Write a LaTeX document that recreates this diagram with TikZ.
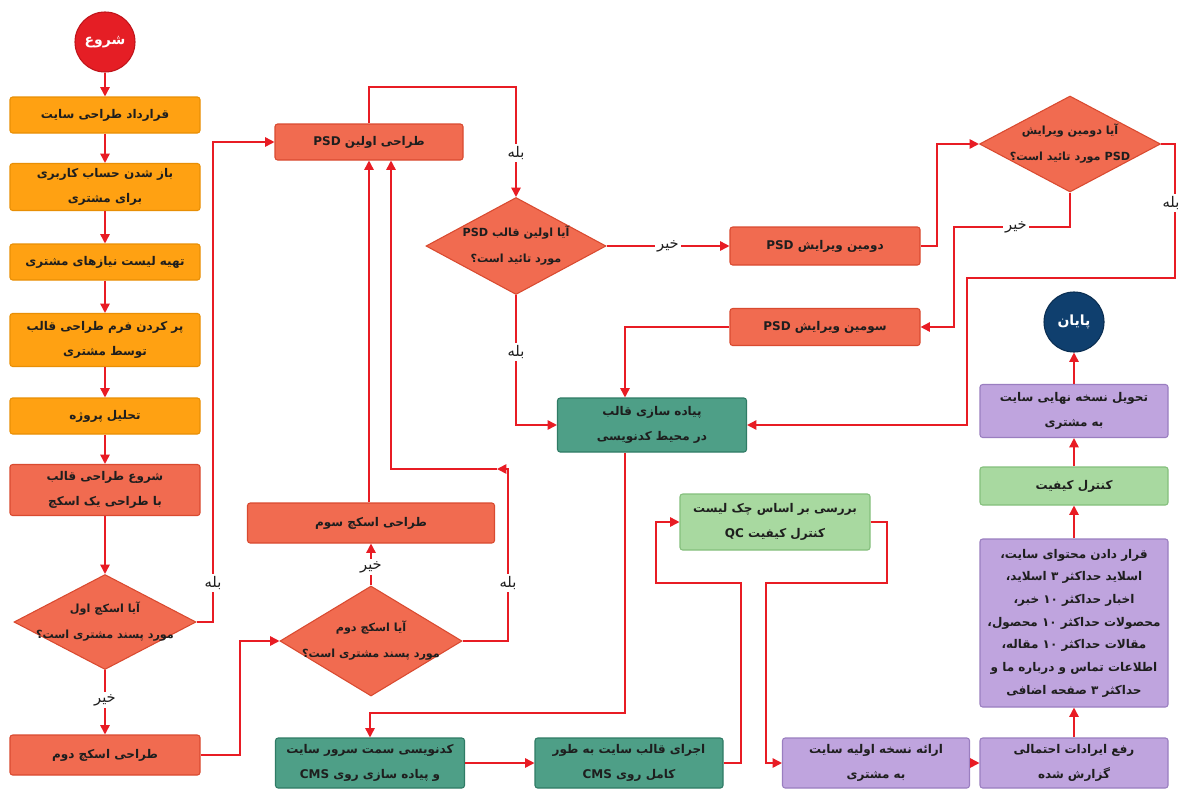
\documentclass[tikz,border=0pt]{standalone}
\usepackage{fontspec}
\usetikzlibrary{shapes.geometric,arrows.meta}
\TeXXeTstate=1
\newfontfamily\fafont[Script=Arabic]{DejaVu Sans}
\newcommand{\fa}[1]{{\fafont\beginR #1\endR}}
\newcommand{\latn}[1]{\beginL #1\endL{}}
\definecolor{txtC}{HTML}{1E1E1E}
\definecolor{orF}{HTML}{FFA112}
\definecolor{orD}{HTML}{E88F05}
\definecolor{salF}{HTML}{F16B50}
\definecolor{salD}{HTML}{D94A30}
\definecolor{teF}{HTML}{4E9F87}
\definecolor{teD}{HTML}{2F7B65}
\definecolor{grF}{HTML}{A8D9A0}
\definecolor{grD}{HTML}{84BF7C}
\definecolor{puF}{HTML}{BFA4DE}
\definecolor{puD}{HTML}{9A7EC0}
\definecolor{stF}{HTML}{E51E25}
\definecolor{stD}{HTML}{C0141A}
\definecolor{enF}{HTML}{0F3F6E}
\definecolor{enD}{HTML}{0A2E52}
\definecolor{lnC}{HTML}{E81C24}
\tikzset{
  box/.style={draw, rounded corners=2pt, line width=0.8pt, inner sep=0pt, align=center,
    font=\fontsize{9}{18.5}\selectfont\bfseries, text=txtC},
  obox/.style={box, fill=orF, draw=orD},
  sbox/.style={box, fill=salF, draw=salD},
  tbox/.style={box, fill=teF, draw=teD},
  gbox/.style={box, fill=grF, draw=grD},
  pbox/.style={box, fill=puF, draw=puD},
  dia/.style={diamond, draw=salD, fill=salF, line width=0.8pt, inner sep=0pt},
  dtext/.style={align=center, inner sep=0pt, font=\fontsize{8.4}{19.5}\selectfont\bfseries, text=txtC},
  term/.style={circle, minimum size=45pt, inner sep=0pt, line width=0.8pt, text=white,
    font=\fontsize{10.5}{12}\selectfont\bfseries},
  conn/.style={draw=lnC, line width=1.2pt, line join=miter, -{Triangle[length=7pt,width=7pt]}},
  lbl/.style={fill=white, inner sep=1.5pt, font=\fontsize{11}{13}\selectfont, text=txtC}
}
\begin{document}
\begin{tikzpicture}[x=0.75pt,y=-0.75pt]
\useasboundingbox[fill=white] (0,0) rectangle (1191,789);

% left column
\node[term, fill=stF, draw=stD] (start) at (105,42) {\fa{شروع}};
\node[obox, minimum width=142.5pt, minimum height=27pt] (b1) at (105,115) {\fa{قرارداد طراحی سایت}};
\node[obox, minimum width=142.5pt, minimum height=35.25pt] (b2) at (105,187) {\fa{باز شدن حساب کاربری}\\\fa{برای مشتری}};
\node[obox, minimum width=142.5pt, minimum height=27pt] (b3) at (105,262) {\fa{تهیه لیست نیازهای مشتری}};
\node[obox, minimum width=142.5pt, minimum height=39.75pt] (b4) at (105,340) {\fa{پر کردن فرم طراحی قالب}\\\fa{توسط مشتری}};
\node[obox, minimum width=142.5pt, minimum height=27pt] (b5) at (105,416) {\fa{تحلیل پروژه}};
\node[sbox, minimum width=142.5pt, minimum height=38.25pt] (b6) at (105,490) {\fa{شروع طراحی قالب}\\\fa{با طراحی یک اسکچ}};
\node[dia, minimum width=136.5pt, minimum height=71.25pt] (d1) at (105,622) {};
\node[dtext] (d1t) at (d1) {\fa{آیا اسکچ اول}\\\fa{مورد پسند مشتری است؟}};
\node[sbox, minimum width=142.5pt, minimum height=30pt] (b7) at (105,755) {\fa{طراحی اسکچ دوم}};

% second column
\node[sbox, minimum width=141pt, minimum height=27pt] (psd1) at (369,142) {\fa{طراحی اولین \latn{PSD}}};
\node[sbox, minimum width=185.25pt, minimum height=30pt] (s3) at (371,523) {\fa{طراحی اسکچ سوم}};
\node[dia, minimum width=136.5pt, minimum height=82.5pt] (d2) at (371,641) {};
\node[dtext] (d2t) at (d2) {\fa{آیا اسکچ دوم}\\\fa{مورد پسند مشتری است؟}};
\node[tbox, minimum width=141.75pt, minimum height=37.5pt] (kod) at (370,763) {\fa{کدنویسی سمت سرور سایت}\\\fa{و پیاده سازی روی \latn{CMS}}};

% middle
\node[dia, minimum width=135pt, minimum height=72.75pt] (d3) at (516,246) {};
\node[dtext] (d3t) at (d3) {\fa{آیا اولین قالب \latn{PSD}}\\\fa{مورد تائید است؟}};
\node[tbox, minimum width=141.75pt, minimum height=40.5pt] (pyade) at (652,425) {\fa{پیاده سازی قالب}\\\fa{در محیط کدنویسی}};
\node[tbox, minimum width=141pt, minimum height=37.5pt] (ejra) at (629,763) {\fa{اجرای قالب سایت به طور}\\\fa{کامل روی \latn{CMS}}};
\node[gbox, minimum width=142.5pt, minimum height=42pt] (qc) at (775,522) {\fa{بررسی بر اساس چک لیست}\\\fa{کنترل کیفیت \latn{QC}}};

% right part
\node[sbox, minimum width=142.5pt, minimum height=28.5pt] (dovom) at (825,246) {\fa{دومین ویرایش \latn{PSD}}};
\node[sbox, minimum width=142.5pt, minimum height=27.75pt] (sevom) at (825,327) {\fa{سومین ویرایش \latn{PSD}}};
\node[dia, minimum width=135.75pt, minimum height=72pt] (d4) at (1070,144) {};
\node[dtext] (d4t) at (d4) {\fa{آیا دومین ویرایش}\\\fa{\latn{PSD} مورد تائید است؟}};
\node[term, fill=enF, draw=enD] (end) at (1074,322) {\fa{پایان}};
\node[pbox, minimum width=141pt, minimum height=39.75pt] (tahvil) at (1074,411) {\fa{تحویل نسخه نهایی سایت}\\\fa{به مشتری}};
\node[gbox, minimum width=141pt, minimum height=28.5pt] (kontrol) at (1074,486) {\fa{کنترل کیفیت}};
\node[pbox, minimum width=141pt, minimum height=126pt, font=\fontsize{9}{17}\selectfont\bfseries] (big) at (1074,623)
  {\fa{قرار دادن محتوای سایت،}\\\fa{اسلاید حداکثر ۳ اسلاید،}\\\fa{اخبار حداکثر \latn{۱۰} خبر،}\\\fa{محصولات حداکثر \latn{۱۰} محصول،}\\\fa{مقالات حداکثر \latn{۱۰} مقاله،}\\\fa{اطلاعات تماس و درباره ما و}\\\fa{حداکثر ۳ صفحه اضافی}};
\node[pbox, minimum width=141pt, minimum height=37.5pt] (rafe) at (1074,763) {\fa{رفع ایرادات احتمالی}\\\fa{گزارش شده}};
\node[pbox, minimum width=140.25pt, minimum height=37.5pt] (eraeh) at (876,763) {\fa{ارائه نسخه اولیه سایت}\\\fa{به مشتری}};

% helper coordinates
\coordinate (x625) at (625,0);
\coordinate (x391) at (391,0);
\coordinate (mid) at (497,469);

% connectors left column
\draw[conn] (start) -- (b1);
\draw[conn] (b1) -- (b2);
\draw[conn] (b2) -- (b3);
\draw[conn] (b3) -- (b4);
\draw[conn] (b4) -- (b5);
\draw[conn] (b5) -- (b6);
\draw[conn] (b6) -- (d1.north);
\draw[conn] (d1.south) -- (b7.north);
\node[lbl] (l1) at (105,700) {\fa{خیر}};
\draw[conn] (d1.east) -| (213,142) -- (psd1.west);
\node[lbl] (l2) at (213,583) {\fa{بله}};
\draw[conn] (b7.east) -| (240,641) -- (d2.west);

% sketch loop
\draw[conn] (d2.north) -- (s3.south);
\node[lbl] (l3) at (371,567) {\fa{خیر}};
\draw[conn] (s3.north -| psd1.south) -- (psd1.south);
\draw[conn] (d2.east) -| (508,469) -- (mid);
\draw[conn] (mid) -| (psd1.south -| x391);
\node[lbl] (l4) at (508,583) {\fa{بله}};

% PSD flow
\draw[conn] (psd1.north) |- (516,87) -- (d3.north);
\node[lbl] (l5) at (516,153) {\fa{بله}};
\draw[conn] (d3.east) -- (dovom.west);
\node[lbl] (l6) at (668,246) {\fa{خیر}};
\draw[conn] (d3.south) |- (pyade.west);
\node[lbl] (l7) at (516,352) {\fa{بله}};
\draw[conn] (dovom.east) -| (937,144) -- (d4.west);
\draw[conn] (d4.south) -- (1070,227) -| (954,327) -- (sevom.east);
\node[lbl] (l8) at (1016,227) {\fa{خیر}};
\draw[conn] (d4.east) -| (1175,278) -| (967,425) -- (pyade.east);
\node[lbl] (l9) at (1171,203) {\fa{بله}};
\draw[conn] (sevom.west) -| (pyade.north -| x625);

% bottom flow
\draw[conn] (pyade.south -| x625) |- (370,713) -- (kod.north);
\draw[conn] (kod.east) -- (ejra.west);
\draw[conn] (ejra.east) -| (741,583) -| (656,522) -- (qc.west);
\draw[conn] (qc.east) -| (887,583) -| (766,763) -- (eraeh.west);
\draw[conn] (eraeh.east) -- (rafe.west);
\draw[conn] (rafe.north) -- (big.south);
\draw[conn] (big.north) -- (kontrol.south);
\draw[conn] (kontrol.north) -- (tahvil.south);
\draw[conn] (tahvil.north) -- (end.south);
\end{tikzpicture}
\end{document}
